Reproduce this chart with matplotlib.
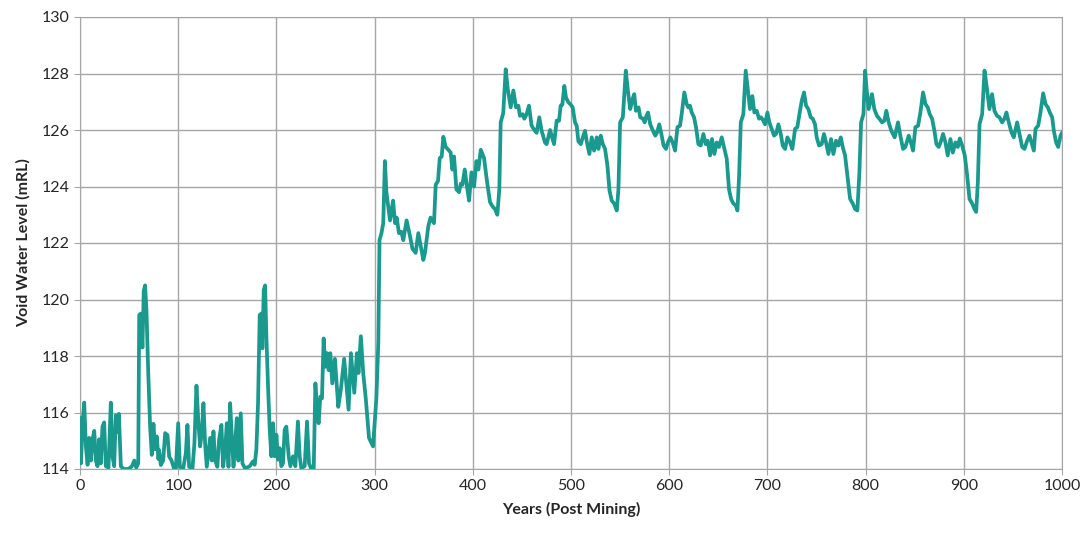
import matplotlib
matplotlib.use("Agg")
import matplotlib.pyplot as plt

# void water level (years post mining, mRL)
years = [
    0, 1, 2.6, 4.3, 6, 7.7, 9.4, 11.1, 12.8, 14.5, 16.2, 17.8, 19.5, 21.2, 22.9, 24.6,
    26.3, 29, 31.4, 33.1, 34.8, 36.5, 38.2, 39.6, 41.6, 44.4, 49.5, 52.9, 55.3, 57.3,
    59.3, 60.3, 61.9, 63.6, 64.9, 66.3, 67.7, 69.4, 71.4, 73.1, 74.8, 76.5, 78.2, 79.9,
    80.6, 82.3, 84.7, 86.7, 89.1, 90.8, 93.2, 95.8, 97.6, 100, 101.7, 105, 107.8, 109.4,
    111.1, 114.5, 116.5, 118.6, 120.6, 122.3, 124, 125.7, 127.4, 129.1, 130.8, 132.5,
    134.2, 135.9, 137.6, 139.9, 141.6, 144, 145.7, 147.8, 149.5, 151.2, 152.9, 154.6,
    156.3, 158, 159.7, 161.3, 163.7, 165.4, 168.1, 172.9, 176.2, 177.9, 179.6, 181.3,
    183, 184.7, 185.7, 187.1, 188.5, 189.8, 191.5, 193.2, 194.9, 196.6, 198.3, 200,
    201.6, 203.3, 205, 206.7, 208.4, 210.1, 212.5, 214.2, 216.9, 219.3, 221.9, 223.7,
    225.4, 228.8, 231.2, 233.2, 235.6, 238, 239.7, 241.4, 243, 244.7, 246.4, 248.1,
    249.8, 251.5, 253.2, 254.9, 256.9, 259.6, 263, 265.6, 269, 273.5, 275.9, 279.3,
    282, 283.6, 286, 288.4, 291, 294.3, 298.4, 301.8, 303.8, 305, 307, 308.8, 310.5,
    312, 315.7, 318.8, 320.8, 322.5, 324.8, 327.2, 329.2, 332.6, 335.7, 338.5, 341.8,
    344.5, 346.9, 349.6, 351.3, 354.7, 357, 360.5, 362.2, 364.6, 366.3, 368.3, 370,
    372.4, 375.1, 377.5, 379.2, 380.9, 383.3, 386, 387.7, 389.4, 391.8, 393.8, 396.2,
    398.6, 401.3, 403.7, 405.7, 408.1, 411.5, 414, 417.5, 420, 422.6, 425, 427, 428.4,
    431, 433.5, 435.6, 438.6, 441.3, 444, 446.4, 448, 450.8, 452.5, 454.8, 457.2,
    459.9, 462.7, 465, 467.7, 470.1, 473.5, 475.2, 478.7, 480.3, 482.7, 485.4, 487.8,
    489.5, 491.2, 493.2, 494.9, 497.3, 499.7, 501.7, 504.1, 505.8, 507.5, 509.9, 512.6,
    514.3, 516, 518.7, 521.1, 523.5, 526.2, 527.9, 530.3, 532.4, 534.7, 537.1, 539.2,
    541.5, 543.9, 546.6, 548.3, 550, 552.8, 555.8, 557.9, 560.3, 562.7, 564.4, 566.1,
    568.8, 570.5, 573.3, 575, 576.3, 578.4, 580.7, 583.5, 585.8, 587.5, 589.9, 592,
    594.3, 596.7, 598.7, 601.1, 603.5, 606, 608.4, 611, 612.7, 615.4, 617.8, 619.5,
    621.2, 622.9, 625.3, 627.3, 629.7, 632.1, 634.8, 637.2, 639.2, 641.6, 643.6, 646,
    648.4, 650.7, 653.5, 655.8, 658.6, 660.9, 663, 665.3, 667.7, 669.5, 671.2, 672.9,
    675.5, 677.9, 680, 682.3, 684.7, 686.7, 689.1, 691.5, 693.5, 695.9, 697.6, 700,
    702, 704.4, 706.8, 708.8, 711.2, 713.6, 715.6, 718, 720.4, 723.1, 725.4, 728.2,
    730.5, 732.6, 735, 737.3, 739.4, 741.7, 744.1, 746.2, 748.5, 750.2, 752.6, 755.3,
    757.6, 759.7, 762.1, 764.8, 767.2, 769.9, 772.3, 774.7, 776.7, 779.1, 781.4, 784.2,
    786.9, 789.3, 791.6, 793.7, 795.4, 797.8, 799.5, 801, 803.1, 806.5, 808.9, 811.6,
    814, 816.7, 819.1, 821.1, 823.5, 826.2, 829.6, 833, 835.4, 838.1, 840.5, 843.9,
    846.6, 848.3, 850.7, 853.4, 855.8, 858.5, 860.9, 863.3, 865.3, 867.7, 870.1, 872.1,
    874.5, 876.9, 878.9, 881.3, 883.6, 886.4, 888.8, 891.5, 893.9, 895.9, 898.3, 901,
    903.4, 905.8, 908.5, 910.9, 912.6, 914.3, 916, 918.7, 921.1, 923.8, 926.1, 928.8,
    931.2, 933.9, 936.3, 939, 941.4, 943.4, 945.8, 948.5, 950.9, 954.3, 957, 959.4,
    961.8, 964.5, 966.9, 968.9, 971.3, 973, 975.7, 978.1, 980.8, 983.2, 985.6, 987.6,
    990, 991.7, 994, 996.1, 998.5, 1000,
]
levels = [
    115.8, 114.2, 115.6, 116.35, 114.8, 114.15, 115.1, 114.3, 115.05, 115.35, 114.3, 114.1,
    115.05, 114.2, 115.5, 115.65, 114.1, 114.05, 116.35, 114.45, 114.1, 115.9, 115.3, 115.95,
    114.1, 114.0, 114.0, 114.1, 114.3, 114.05, 114.2, 119.45, 119.5, 118.3, 120.3, 120.5,
    119.6, 117.5, 115.5, 114.5, 115.6, 114.7, 115.15, 114.35, 114.67, 114.14, 114.3, 115.27,
    115.2, 114.44, 114.3, 114.02, 114.0, 115.62, 114.08, 114.0, 114.56, 115.56, 114.08, 114.0,
    114.9, 116.95, 115.62, 114.8, 115.27, 116.33, 114.9, 114.08, 114.6, 115.1, 114.3, 115.33,
    114.3, 114.08, 115.03, 115.56, 114.08, 114.67, 115.62, 114.08, 116.33, 115.15, 114.08, 114.9,
    115.8, 114.3, 115.97, 114.2, 114.02, 114.1, 114.27, 114.15, 114.7, 116.33, 119.45, 119.5,
    118.27, 120.33, 120.5, 118.68, 116.92, 115.39, 114.45, 115.62, 114.45, 115.21, 114.33, 114.74,
    114.1, 114.2, 115.39, 115.5, 114.45, 114.1, 114.45, 114.1, 115.68, 114.45, 114.03, 114.1,
    115.68, 114.2, 114.0, 114.0, 117.03, 116.1, 115.62, 116.56, 116.5, 118.62, 117.62, 118.1,
    117.5, 118.1, 117.03, 117.9, 116.2, 116.8, 117.9, 116.1, 118.1, 116.7, 118.1, 117.4,
    118.7, 117.4, 116.5, 115.1, 114.8, 116.5, 118.5, 122.1, 122.35, 122.7, 124.9, 123.8,
    122.8, 123.5, 122.7, 122.9, 122.35, 122.4, 122.1, 122.8, 122.3, 121.8, 121.65, 122.35,
    121.9, 121.4, 121.65, 122.6, 122.9, 122.7, 124.06, 124.2, 125.0, 125.06, 125.76, 125.4,
    125.3, 125.2, 124.6, 125.06, 123.9, 123.8, 124.1, 124.06, 124.6, 124.06, 123.5, 124.5,
    124.0, 124.9, 124.6, 125.3, 125.0, 124.3, 123.45, 123.3, 123.2, 123.0, 123.9, 126.27,
    126.6, 128.15, 127.45, 126.8, 127.4, 126.8, 126.86, 126.5, 126.56, 126.4, 126.56, 126.86,
    126.15, 126.0, 125.9, 126.45, 125.97, 125.56, 125.5, 126.0, 125.8, 125.5, 126.33, 126.33,
    126.86, 126.9, 127.56, 127.15, 126.98, 126.9, 126.8, 126.27, 126.15, 125.6, 125.5, 125.8,
    125.97, 125.6, 125.15, 125.74, 125.27, 125.74, 125.33, 125.8, 125.5, 125.33, 124.74, 123.86,
    123.5, 123.4, 123.15, 123.9, 126.27, 126.45, 128.1, 127.4, 126.74, 127.1, 127.27, 126.68,
    126.8, 126.45, 126.4, 126.27, 126.45, 126.62, 126.2, 125.97, 125.8, 125.9, 126.2, 125.86,
    125.45, 125.33, 125.56, 125.74, 125.56, 125.27, 126.1, 126.15, 126.56, 127.33, 126.92, 126.8,
    126.86, 126.62, 126.45, 126.1, 125.5, 125.45, 125.86, 125.5, 125.62, 125.1, 125.68, 125.15,
    125.56, 125.4, 125.74, 125.4, 124.98, 123.9, 123.56, 123.4, 123.33, 123.15, 124.4, 126.27,
    126.56, 128.1, 127.45, 126.74, 127.2, 126.62, 126.68, 126.4, 126.45, 126.33, 126.2, 126.62,
    126.27, 126.04, 125.8, 125.86, 126.2, 125.86, 125.45, 125.33, 125.74, 125.56, 125.33, 126.04,
    126.1, 126.56, 127.04, 127.33, 126.86, 126.74, 126.45, 126.4, 126.2, 125.74, 125.45, 125.5,
    125.86, 125.56, 125.15, 125.68, 125.15, 125.62, 125.45, 125.74, 125.4, 125.1, 124.4, 123.56,
    123.4, 123.2, 123.15, 124.5, 126.27, 126.56, 128.1, 127.45, 126.74, 127.27, 126.74, 126.5,
    126.4, 126.27, 126.33, 126.68, 126.27, 125.97, 125.74, 126.27, 125.8, 125.33, 125.4, 125.8,
    125.5, 125.27, 126.1, 126.15, 126.62, 127.33, 126.92, 126.8, 126.56, 126.4, 125.97, 125.5,
    125.4, 125.62, 125.86, 125.56, 125.1, 125.68, 125.2, 125.56, 125.4, 125.7, 125.45, 125.1,
    124.4, 123.56, 123.4, 123.2, 123.1, 124.15, 126.2, 126.56, 128.1, 127.4, 126.74, 127.27,
    126.68, 126.5, 126.45, 126.27, 126.4, 126.62, 126.27, 125.92, 125.74, 126.27, 125.8, 125.4,
    125.33, 125.62, 125.8, 125.56, 125.27, 126.04, 126.15, 126.62, 127.3, 126.92, 126.8, 126.62,
    126.45, 125.97, 125.56, 125.4, 125.8, 125.9,
]

x_ticks = list(range(0, 1001, 100))
y_ticks = list(range(114, 131, 2))

plt.rcParams['font.family'] = ['Lato', 'DejaVu Sans']
grid_col = '#a6a6a6'

fig = plt.figure(figsize=(10.85, 5.34), dpi=100)
ax = fig.add_axes([80 / 1085, 1 - 469 / 534, (1062 - 80) / 1085, (469 - 17) / 534])

ax.plot(years, levels, color='#1a998e', linewidth=2.7, solid_joinstyle='round', zorder=3)

ax.set_xlim(0, 1000)
ax.set_ylim(114, 130)
ax.set_xticks(x_ticks)
ax.set_yticks(y_ticks)
ax.grid(True, color=grid_col, linewidth=1)
ax.set_axisbelow(True)
for s in ax.spines.values():
    s.set_color(grid_col)
ax.tick_params(colors=grid_col, labelcolor='#262626', labelsize=11.5, length=4, direction='out')

ax.set_xlabel('Years (Post Mining)', fontsize=11.5, fontweight='bold', color='#262626', labelpad=6)
ax.set_ylabel('Void Water Level (mRL)', fontsize=11.5, fontweight='bold', color='#262626', labelpad=8)

plt.savefig('out.png', dpi=100)
